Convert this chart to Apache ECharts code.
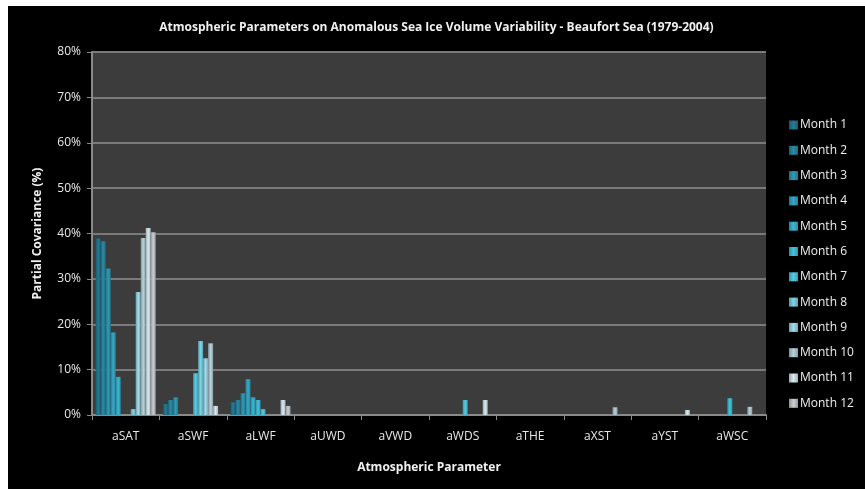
<!DOCTYPE html>
<html>
<head>
<meta charset="utf-8">
<script src="https://cdn.jsdelivr.net/npm/echarts@6/dist/echarts.min.js"></script>
<style>
  html, body { margin: 0; padding: 0; background: #fff; }
  #chart { position: absolute; left: 8px; top: 6px; width: 857px; height: 483px; background: #000; }
</style>
</head>
<body>
<div id="chart"></div>
<script>
// parameters on the x axis
const categories = ['aSAT', 'aSWF', 'aLWF', 'aUWD', 'aVWD', 'aWDS', 'aTHE', 'aXST', 'aYST', 'aWSC'];
const months = ['Month 1', 'Month 2', 'Month 3', 'Month 4', 'Month 5', 'Month 6',
  'Month 7', 'Month 8', 'Month 9', 'Month 10', 'Month 11', 'Month 12'];

// partial covariance (%) per parameter, month 1..12
const aSAT = [38.9, 38.3, 32.3, 18.2, 8.4, 0, 0, 1.3, 27.1, 39.0, 41.2, 40.3];
const aSWF = [2.4, 3.3, 3.9, 0, 0, 0, 9.2, 16.3, 12.5, 15.8, 2.0, 0];
const aLWF = [2.8, 3.3, 4.8, 7.9, 3.9, 3.3, 1.3, 0, 0, 0, 3.3, 2.0];
const aUWD = [0, 0, 0, 0, 0, 0, 0, 0, 0, 0, 0, 0];
const aVWD = [0, 0, 0, 0, 0, 0, 0, 0, 0, 0, 0, 0];
const aWDS = [0, 0, 0, 0, 0, 0, 3.3, 0, 0, 0, 3.3, 0];
const aTHE = [0, 0, 0, 0, 0, 0, 0, 0, 0, 0, 0, 0];
const aXST = [0, 0, 0, 0, 0, 0, 0, 0, 0, 1.7, 0, 0];
const aYST = [0, 0, 0, 0, 0, 0, 0, 0, 0, 0, 1.1, 0];
const aWSC = [0, 0, 0, 0, 0, 3.7, 0, 0, 0, 1.8, 0, 0];

const byParam = [aSAT, aSWF, aLWF, aUWD, aVWD, aWDS, aTHE, aXST, aYST, aWSC];

// teal -> grey ramp, one per month
const colors = ['#1f6f86', '#257d95', '#2a8ba4', '#3098b2', '#35a4be', '#3cb0c9',
  '#4ab8cf', '#70bfd0', '#8fc6d3', '#a3bcc4', '#c3d2d8', '#b3b8bc'];

function shade(hex, f) {
  const n = parseInt(hex.slice(1), 16);
  let r = (n >> 16) & 255, g = (n >> 8) & 255, b = n & 255;
  r = Math.min(255, Math.round(r * f)); g = Math.min(255, Math.round(g * f)); b = Math.min(255, Math.round(b * f));
  return 'rgb(' + r + ',' + g + ',' + b + ')';
}

const series = months.map(function (m, i) {
  return {
    name: m,
    type: 'bar',
    barWidth: 5,
    barGap: '0%',
    data: byParam.map(function (p) { return p[i]; }),
    itemStyle: {
      color: new echarts.graphic.LinearGradient(0, 0, 1, 0, [
        { offset: 0, color: shade(colors[i], 0.8) },
        { offset: 0.5, color: shade(colors[i], 1.12) },
        { offset: 1, color: shade(colors[i], 0.85) }
      ])
    }
  };
});

const chart = echarts.init(document.getElementById('chart'));
chart.setOption({
  backgroundColor: '#000',
  animation: false,
  textStyle: { fontFamily: 'Open Sans' },
  title: {
    text: 'Atmospheric Parameters on Anomalous Sea Ice Volume Variability - Beaufort Sea (1979-2004)',
    left: 'center',
    top: 11,
    textStyle: { color: '#f0f0f0', fontSize: 12, fontWeight: 'bold', fontFamily: 'Open Sans' }
  },
  legend: {
    orient: 'vertical',
    left: 776,
    top: 108,
    itemWidth: 9,
    itemHeight: 9,
    itemGap: 13.3,
    icon: 'rect',
    data: months,
    itemStyle: { borderWidth: 0 },
    textStyle: { color: '#f0f0f0', fontSize: 12, padding: [0, 0, 0, -3] }
  },
  grid: { left: 84, right: 99, top: 46, bottom: 74, backgroundColor: '#3c3c3c', show: true, borderWidth: 0 },
  xAxis: {
    type: 'category',
    data: categories,
    name: 'Atmospheric Parameter',
    nameLocation: 'middle',
    nameGap: 47,
    nameTextStyle: { color: '#f0f0f0', fontSize: 12, fontWeight: 'bold' },
    axisLine: { lineStyle: { color: '#8a8a8a', width: 2 } },
    axisTick: { show: true, length: 5, lineStyle: { color: '#8a8a8a' } },
    axisLabel: { color: '#e8e8e8', fontSize: 12, margin: 16 }
  },
  yAxis: {
    type: 'value',
    min: 0,
    max: 80,
    interval: 10,
    name: 'Partial Covariance (%)',
    nameLocation: 'middle',
    nameGap: 48,
    nameTextStyle: { color: '#f0f0f0', fontSize: 12, fontWeight: 'bold' },
    axisLine: { show: true, lineStyle: { color: '#8a8a8a', width: 2 } },
    axisTick: { show: true, length: 5, lineStyle: { color: '#8a8a8a' } },
    axisLabel: { color: '#e8e8e8', fontSize: 12, margin: 11, formatter: '{value}%' },
    splitLine: { lineStyle: { color: '#7a7a7a', width: 2 } }
  },
  series: series
});
</script>
</body>
</html>
